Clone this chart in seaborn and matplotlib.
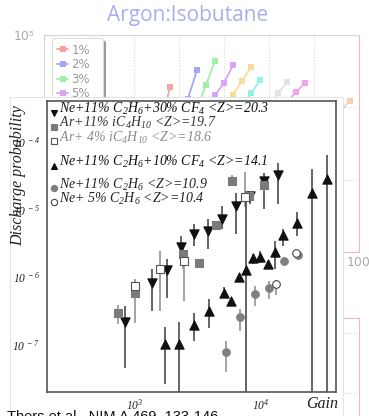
import numpy as np
import pandas as pd
import matplotlib
matplotlib.use("Agg")
import matplotlib.pyplot as plt
import seaborn as sns
from matplotlib.patches import Rectangle
from matplotlib.ticker import LogLocator, FuncFormatter, NullFormatter

# ---------------- background chart: Argon:Isobutane gain curves ----------------
mix_labels = ["1%", "2%", "3%", "5%", "7%", "10%", "15%", "20%", "30%"]
mix_colors = ["#f7a3a3", "#a4a7f6", "#a2f0a8", "#d8a4f4", "#f6dc96",
              "#95f1e2", "#e2e2e2", "#f2a2ee", "#f5cfb0"]
mix_voltage = [[56, 58], [60, 62, 64], [64, 66, 68], [66, 68, 70, 72],
               [70, 72, 74, 76], [74, 76, 78], [80, 82, 84], [84, 86, 88], [96, 98]]
mix_gain = [[5900, 19000], [5300, 13200, 33000], [9600, 20500, 43900],
            [9600, 14600, 21900, 38000], [9800, 14900, 23000, 36100],
            [10200, 15700, 23500], [11000, 15700, 22300], [12000, 16200, 21900],
            [9000, 12400]]

# ---------------- foreground: discharge probability vs gain ----------------
# Ne+11% C2H6+30% CF4
ne30_gain = [832, 1360, 1790, 2320, 2980, 3860, 4970, 6430, 8210, 10770, 13870]
ne30_prob = [2.17e-7, 8.2e-7, 1.25e-6, 2.82e-6, 4.3e-6, 4.8e-6, 7.3e-6, 1.13e-5, 1.6e-5, 2.67e-5, 3.24e-5]
ne30_lo = [4.5e-8, 3.1e-7, 4.9e-7, 2.05e-6, 2.9e-6, 2.6e-6, 5.2e-6, 4.4e-6, 1.2e-5, 1.02e-5, 1.2e-5]
ne30_hi = [3.7e-7, 1.32e-6, 1.85e-6, 4.06e-6, 6.0e-6, 7.3e-6, 1.13e-5, 1.77e-5, 1.8e-5, 3.5e-5, 4.9e-5]

# Ar+11% iC4H10
ar11_gain = [735, 1000, 2430, 3270, 4420, 5940, 8050, 10770]
ar11_prob = [2.95e-7, 5.85e-7, 2.17e-6, 1.63e-6, 5.86e-6, 2.67e-5, 1.56e-5, 2.3e-5]
ar11_lo = [2.0e-7, 2.1e-7, 1.3e-6, 1.45e-6, 5.0e-6, 2.2e-5, 1.3e-5, 1.9e-5]
ar11_hi = [3.9e-7, 9.3e-7, 3.3e-6, 1.85e-6, 6.8e-6, 3.2e-5, 1.85e-5, 2.9e-5]

# Ar+4% iC4H10
ar4_gain = [1013, 1585, 2466, 7590]
ar4_prob = [7.5e-7, 1.3e-6, 1.73e-6, 1.54e-5]
ar4_lo = [6.5e-7, 3.1e-7, 4.4e-7, 1.1e-5]
ar4_hi = [8.8e-7, 2.4e-6, 2.3e-6, 3.6e-5]

# Ne+11% C2H6+10% CF4
ne10_gain = [1738, 2260, 2965, 3910, 5090, 5830, 6700, 7690, 8740, 10000,
             11530, 13180, 15080, 19660, 25920, 33730]
ne10_prob = [1.02e-7, 1.02e-7, 1.98e-7, 3.2e-7, 5.85e-7, 4.5e-7, 1.01e-6, 1.27e-6, 1.9e-6, 2.0e-6,
             1.55e-6, 2.35e-6, 4.17e-6, 6.2e-6, 1.75e-5, 2.83e-5]
ne10_lo = [2.6e-8, 1.0e-8, 1.12e-7, 1.75e-7, 4.9e-7, 4.5e-7, 1.01e-6, 1.0e-8, 1.56e-6, 1.6e-6,
           1.55e-6, 1.3e-6, 2.9e-6, 4.1e-6, 1.0e-8, 1.0e-8]
ne10_hi = [1.8e-7, 2.2e-7, 2.95e-7, 4.7e-7, 7.1e-7, 4.5e-7, 1.01e-6, 1.6e-5, 2.2e-6, 2.4e-6,
           1.55e-6, 3.4e-6, 5.1e-6, 9.0e-6, 3.98e-5, 6.3e-5]

# Ne+11% C2H6
ne11_gain = [5350, 6920, 9000, 11740, 15360, 19870]
ne11_prob = [7.76e-8, 2.55e-7, 5.65e-7, 6.8e-7, 1.73e-6, 2.12e-6]
ne11_lo = [3.9e-8, 1.58e-7, 3.7e-7, 4.7e-7, 1.46e-6, 1.85e-6]
ne11_hi = [1.15e-7, 3.35e-7, 7.3e-7, 8.7e-7, 1.94e-6, 2.4e-6]

# Ne+5% C2H6
ne5_gain = [13350, 19050]
ne5_prob = [7.8e-7, 2.23e-6]
ne5_lo = [5.5e-7, 1.95e-6]
ne5_hi = [9.2e-7, 2.5e-6]

legend_labels = [
    r"Ne+11% C$_2$H$_6$+30% CF$_4$ <Z>=20.3",
    r"Ar+11% iC$_4$H$_{10}$ <Z>=19.7",
    r"Ar+ 4% iC$_4$H$_{10}$ <Z>=18.6",
    r"Ne+11% C$_2$H$_6$+10% CF$_4$ <Z>=14.1",
    r"Ne+11% C$_2$H$_6$ <Z>=10.9",
    r"Ne+ 5% C$_2$H$_6$ <Z>=10.4",
]

sns.set_style("white")
plt.rcParams["font.family"] = ["DejaVu Sans"]
plt.rcParams["mathtext.fontset"] = "custom"
plt.rcParams["mathtext.it"] = "Liberation Serif:italic"
plt.rcParams["mathtext.rm"] = "Liberation Serif:italic"
plt.rcParams["mathtext.sf"] = "Liberation Serif:italic"

W, H = 369, 416
fig = plt.figure(figsize=(W / 100, H / 100), dpi=100)
fig.patch.set_facecolor("white")


def fx(px):
    return px / W


def fy(py):
    return 1 - py / H


# ---- background gain chart ----
ax_bg = fig.add_axes([fx(44), fy(252), fx(359) - fx(44), fy(35) - fy(252)])
ax_bg.set_zorder(0)
rows = []
for lab, vs, gs in zip(mix_labels, mix_voltage, mix_gain):
    for v, g in zip(vs, gs):
        rows.append({"mix": lab, "voltage": v, "gain": g})
bg = pd.DataFrame(rows)
sns.lineplot(data=bg, x="voltage", y="gain", hue="mix", hue_order=mix_labels,
             palette=mix_colors, marker="s", markersize=5, markeredgewidth=0,
             linewidth=1.3, sort=False, estimator=None, ax=ax_bg)
ax_bg.set_yscale("log")
ax_bg.set_ylim(100, 1e5)
ax_bg.set_xlim(30, 100)
ax_bg.set_xticks(np.arange(30, 101, 10))
ax_bg.set_xticklabels([""] * 7 + ["100"], color="#aaaaaa", fontsize=9)
ax_bg.set_xlabel("")
ax_bg.set_ylabel("")
ax_bg.grid(True, which="major", linestyle=":", color="#d9d9d9", linewidth=0.8)
sup = str.maketrans("0123456789", "⁰¹²³⁴⁵⁶⁷⁸⁹")
ax_bg.yaxis.set_major_formatter(FuncFormatter(lambda v, p: "10" + str(int(round(np.log10(v)))).translate(sup)))
ax_bg.yaxis.set_minor_locator(LogLocator(base=10, subs=np.arange(2, 10)))
ax_bg.yaxis.set_minor_formatter(NullFormatter())
ax_bg.tick_params(axis="y", which="major", colors="#aaaaaa", labelsize=9, length=5, pad=2)
ax_bg.tick_params(axis="y", which="minor", colors="#cccccc", length=3)
ax_bg.tick_params(axis="x", colors="#f0b8b8", labelcolor="#aaaaaa", length=3, pad=0)
for s in ("left", "top"):
    ax_bg.spines[s].set_color("#d6d6d6")
for s in ("right", "bottom"):
    ax_bg.spines[s].set_color("#f0baba")
leg = ax_bg.legend(loc="upper left", bbox_to_anchor=(0.025, 0.985), borderaxespad=0,
                   frameon=True, fontsize=8.5, handlelength=0.9, handletextpad=0.3,
                   labelspacing=0.13, borderpad=0.45, shadow={"color": "#9a9a9a", "alpha": 1.0})
leg.get_frame().set_edgecolor("#dddddd")
leg.get_frame().set_linewidth(0.8)
for t in leg.get_texts():
    t.set_color("#999999")

# second background panel below
ax_bg2 = fig.add_axes([fx(44), fy(573), fx(359) - fx(44), fy(318) - fy(573)])
ax_bg2.set_zorder(0)
ax_bg2.set_xlim(30, 100)
ax_bg2.set_ylim(0, 4.25)
ax_bg2.set_yticks([0, 1, 2, 3, 4])
ax_bg2.set_xticks([])
ax_bg2.set_yticklabels([])
ax_bg2.tick_params(length=0)
ax_bg2.grid(True, axis="y", linestyle=":", color="#d9d9d9", linewidth=0.8)
for s in ("left", "bottom"):
    ax_bg2.spines[s].set_color("#d6d6d6")
for s in ("right", "top"):
    ax_bg2.spines[s].set_color("#f0baba")

fig.text(fx(188), fy(16), "Argon:Isobutane", ha="center", va="center",
         fontsize=15, color="#a8aef0", family="Open Sans")

# white panel carrying the discharge plot
panel = Rectangle((fx(10), 0), fx(343) - fx(10), fy(97), transform=fig.transFigure,
                  facecolor="white", edgecolor="#e4e4e4", linewidth=0.8, zorder=1)
fig.add_artist(panel)

# ---- foreground discharge probability plot ----
ax = fig.add_axes([fx(47), fy(392), fx(336) - fx(47), fy(101) - fy(392)])
ax.set_zorder(2)
ax.set_facecolor("white")
ax.set_xscale("log")
ax.set_yscale("log")
ax.set_xlim(200, 40000)
ax.set_ylim(2e-8, 4e-4)

series = [
    (ne30_gain, ne30_prob, ne30_lo, ne30_hi, "v", "#111111", "#111111", "#3a3a3a", 44),
    (ar11_gain, ar11_prob, ar11_lo, ar11_hi, "s", "#7b7b7b", "#7b7b7b", "#8a8a8a", 28),
    (ar4_gain, ar4_prob, ar4_lo, ar4_hi, "s", "white", "#555555", "#8a8a8a", 28),
    (ne10_gain, ne10_prob, ne10_lo, ne10_hi, "^", "#111111", "#111111", "#3a3a3a", 44),
    (ne11_gain, ne11_prob, ne11_lo, ne11_hi, "o", "#7f7f7f", "#7f7f7f", "#8a8a8a", 30),
    (ne5_gain, ne5_prob, ne5_lo, ne5_hi, "o", "white", "#444444", "#8a8a8a", 30),
]
for g, p, lo, hi, mk, fc, ec, bc, sz in series:
    g = np.array(g); p = np.array(p); lo = np.array(lo); hi = np.array(hi)
    ax.errorbar(g, p, yerr=[p - lo, hi - p], fmt="none", ecolor=bc, elinewidth=1.1,
                capsize=0, zorder=2)
    df = pd.DataFrame({"gain": g, "prob": p})
    sns.scatterplot(data=df, x="gain", y="prob", marker=mk, s=sz, color=fc,
                    edgecolor=ec, linewidth=0.8, zorder=3, ax=ax, legend=False)

ax.set_xlabel("")
ax.set_ylabel("")
ax.xaxis.set_major_locator(LogLocator(base=10, numticks=10))
ax.xaxis.set_minor_locator(LogLocator(base=10, subs=np.arange(2, 10), numticks=20))
ax.yaxis.set_major_locator(LogLocator(base=10, numticks=10))
ax.yaxis.set_minor_locator(LogLocator(base=10, subs=np.arange(2, 10), numticks=20))
ax.xaxis.set_minor_formatter(NullFormatter())
ax.yaxis.set_minor_formatter(NullFormatter())
ax.xaxis.set_major_formatter(FuncFormatter(lambda v, p: r"$10^{%d}$" % round(np.log10(v))))
ax.yaxis.set_major_formatter(FuncFormatter(lambda v, p: r"$10^{\ %d}$" % round(np.log10(v))))
ax.tick_params(which="both", direction="in", top=False, right=False, color="#555555",
               labelsize=8.3, labelcolor="#222222")
ax.tick_params(which="major", length=7, width=1.0, pad=5)
ax.tick_params(axis="x", which="major", pad=4)
ax.tick_params(which="minor", length=3.5, width=0.9)
for s in ax.spines.values():
    s.set_color("#555555")
    s.set_linewidth(1.2)

ax.set_ylabel("Discharge probability", family="Liberation Serif", style="italic",
              fontsize=11.5, color="#222222")
ax.yaxis.set_label_coords(-0.072, 0.745)
ax.set_xlabel("Gain", family="Liberation Serif", style="italic", fontsize=11.5, color="#222222")
ax.xaxis.set_label_coords(0.952, -0.013)

# key inside the axes
key_y = [0.972, 0.924, 0.873, 0.790, 0.713, 0.664]
key_style = [("v", "#111111", "#111111"), ("s", "#7b7b7b", "#7b7b7b"), ("s", "white", "#555555"),
             ("^", "#111111", "#111111"), ("o", "#7f7f7f", "#7f7f7f"), ("o", "white", "#444444")]
key_colors = ["#111111", "#333333", "#8a8a8a", "#111111", "#222222", "#222222"]
for yk, (mk, fc, ec), lab, tc in zip(key_y, key_style, legend_labels, key_colors):
    ax.plot([0.024], [yk - 0.012], marker=mk, markersize=4.5, markerfacecolor=fc,
            markeredgecolor=ec, markeredgewidth=0.8, linestyle="none",
            transform=ax.transAxes, clip_on=False, zorder=4)
    ax.text(0.043, yk, lab, transform=ax.transAxes, ha="left", va="center",
            family="Liberation Serif", style="italic", fontsize=10, color=tc, zorder=4)

fig.text(fx(7), fy(421), "Thers et al., NIM A 469, 133-146", ha="left", va="baseline",
         fontsize=10.5, color="#111111", family="Liberation Sans", zorder=5)

fig.savefig("out.png", dpi=100)
